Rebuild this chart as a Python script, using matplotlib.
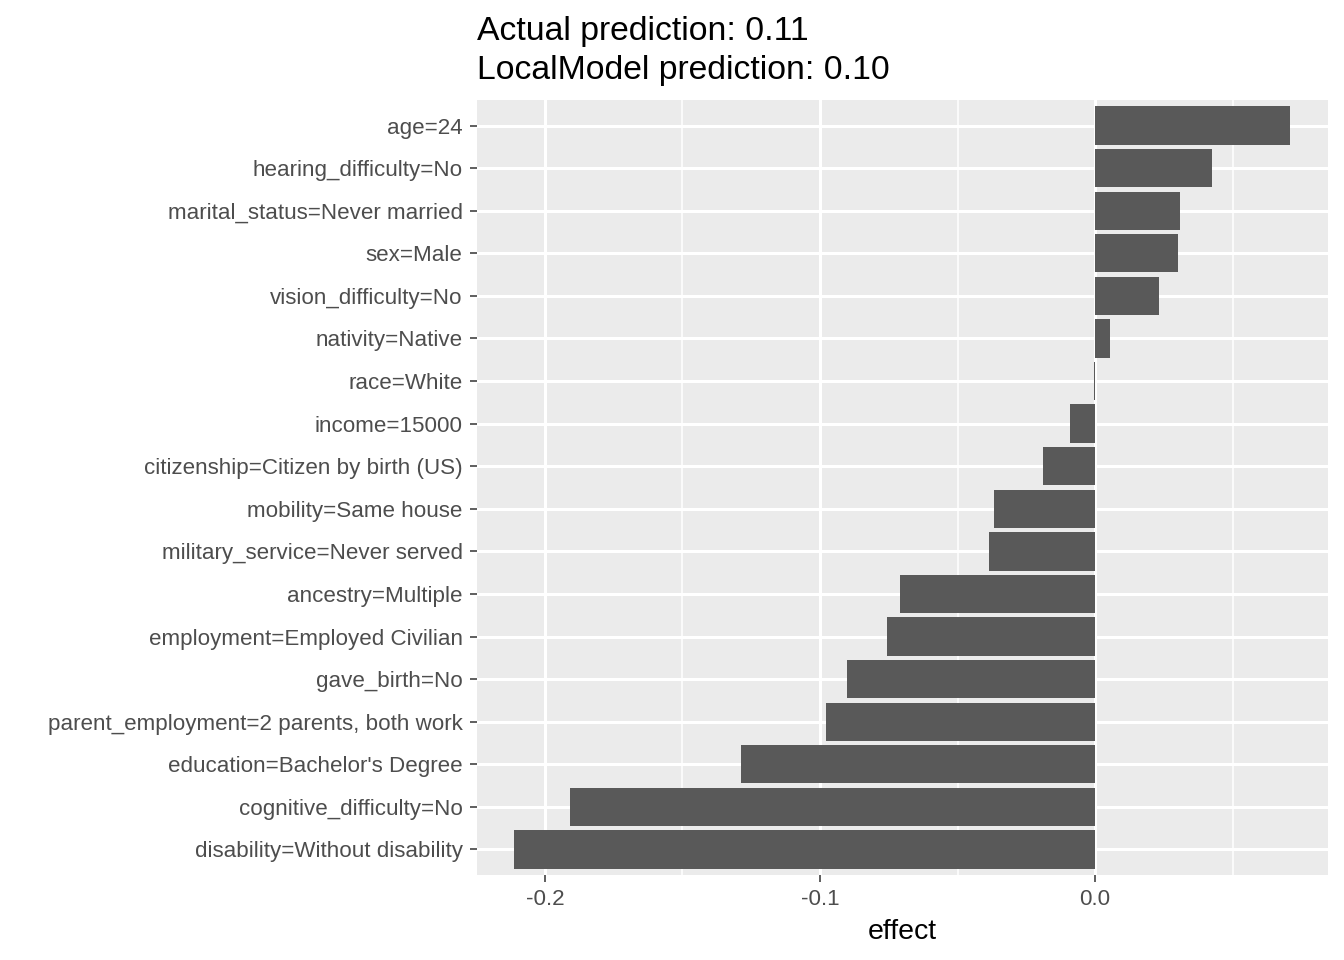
import matplotlib
matplotlib.use("Agg")
import matplotlib.pyplot as plt
from matplotlib.ticker import MultipleLocator

plt.rcParams['font.family'] = ['Liberation Sans', 'DejaVu Sans']

# features listed top to bottom as in the chart
features = [
    "age=24",
    "hearing_difficulty=No",
    "marital_status=Never married",
    "sex=Male",
    "vision_difficulty=No",
    "nativity=Native",
    "race=White",
    "income=15000",
    "citizenship=Citizen by birth (US)",
    "mobility=Same house",
    "military_service=Never served",
    "ancestry=Multiple",
    "employment=Employed Civilian",
    "gave_birth=No",
    "parent_employment=2 parents, both work",
    "education=Bachelor's Degree",
    "cognitive_difficulty=No",
    "disability=Without disability",
]
effects = [0.0709, 0.0425, 0.0309, 0.0302, 0.0233, 0.0055, -0.0004, -0.0091,
           -0.0189, -0.0367, -0.0385, -0.0709, -0.0756, -0.0902, -0.0978,
           -0.1287, -0.1909, -0.2113]
title_lines = ["Actual prediction: 0.11", "LocalModel prediction: 0.10"]

fig = plt.figure(figsize=(13.44, 9.6), dpi=100)
ax = fig.add_axes([477 / 1344, 1 - 875 / 960, (1328 - 477) / 1344, (875 - 100) / 960])
ax.set_facecolor('#EBEBEB')

n = len(features)
ypos = list(range(n - 1, -1, -1))
ax.barh(ypos, effects, height=0.9, color='#595959', zorder=3)

ax.set_xlim(-0.2247, 0.0847)
ax.set_ylim(-0.6, n - 0.4)
ax.set_yticks(ypos)
ax.set_yticklabels(features)
ax.xaxis.set_minor_locator(MultipleLocator(0.05))
ax.set_xticks([-0.2, -0.1, 0.0])
ax.set_xticklabels(["-0.2", "-0.1", "0.0"])

ax.grid(which='major', axis='both', color='white', linewidth=2.2, zorder=1)
ax.grid(which='minor', axis='x', color='white', linewidth=1.1, zorder=1)
for s in ax.spines.values():
    s.set_visible(False)

ax.tick_params(axis='both', which='major', colors='#333333', length=5.3, width=1.1,
               labelsize=16.1, labelcolor='#4D4D4D', pad=5)
ax.tick_params(axis='x', which='minor', length=0)
ax.set_xlabel("effect", fontsize=20.5, color='black', labelpad=6)

fig.text(477 / 1344, 1 - 16 / 960, "\n".join(title_lines), fontsize=24.3,
         ha='left', va='top', linespacing=1.33)

fig.savefig("out.png", dpi=100)
